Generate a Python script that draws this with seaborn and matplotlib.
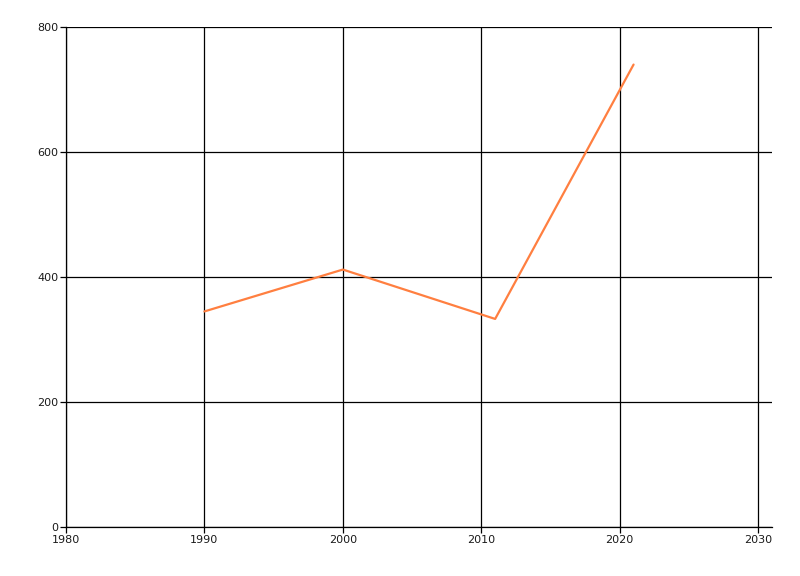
import matplotlib
matplotlib.use('Agg')
import matplotlib.pyplot as plt
import seaborn as sns
import pandas as pd

# Values
years = [1990, 2000, 2011, 2021]
values = [345, 412, 333, 740]
x_ticks = [1980, 1990, 2000, 2010, 2020, 2030]
y_ticks = [0, 200, 400, 600, 800]

df = pd.DataFrame({'year': years, 'value': values})

sns.set_style('white')
plt.rcParams['font.family'] = ['DejaVu Sans']

fig = plt.figure(figsize=(8, 5.76), dpi=100)
ax = fig.add_axes([0.0825, 0.085, 0.8825, 0.868])

sns.lineplot(data=df, x='year', y='value', color='#ff7f40', linewidth=1.6, ax=ax)

ax.set_xlim(1980, 2031)
ax.set_ylim(0, 800)
ax.set_xticks(x_ticks)
ax.set_yticks(y_ticks)
ax.set_xlabel('')
ax.set_ylabel('')
ax.grid(True, color='black', linewidth=0.9)
ax.set_axisbelow(True)

for side in ['top', 'right']:
    ax.spines[side].set_visible(False)
for side in ['left', 'bottom']:
    ax.spines[side].set_color('black')
    ax.spines[side].set_linewidth(0.9)

ax.tick_params(axis='both', length=4, width=0.9, color='black', labelsize=8,
               labelcolor='#1a1a1a', pad=1.5, left=True, bottom=True)

plt.savefig('out.png', dpi=100)
